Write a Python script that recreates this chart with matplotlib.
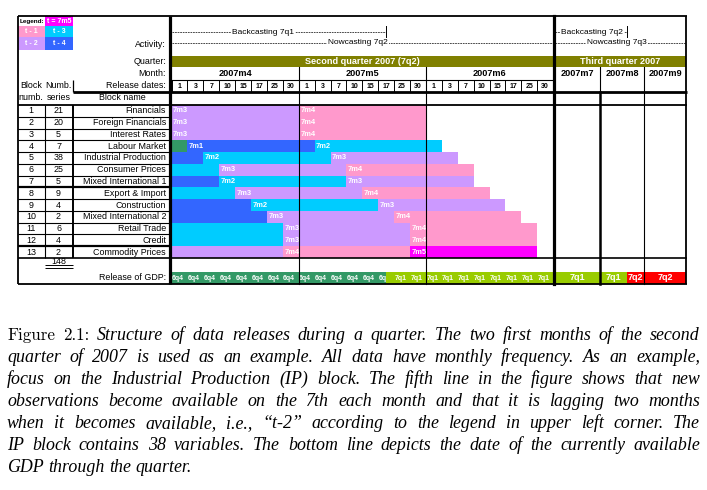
import matplotlib
matplotlib.use("Agg")
import matplotlib.pyplot as plt
from matplotlib.font_manager import FontProperties

# ------------------------------------------------------------------ data
block_names = ["Financials", "Foreign Financials", "Interest Rates", "Labour Market",
               "Industrial Production", "Consumer Prices", "Mixed International 1",
               "Export & Import", "Construction", "Mixed International 2",
               "Retail Trade", "Credit", "Commodity Prices"]
block_series = [21, 20, 5, 7, 38, 25, 5, 9, 4, 2, 6, 4, 2]
total_series = 148
release_dates = [1, 3, 7, 10, 15, 17, 25, 30]
months_q2 = ["2007m4", "2007m5", "2007m6"]
months_q3 = ["2007m7", "2007m8", "2007m9"]
quarters = ["Second quarter 2007 (7q2)", "Third quarter 2007"]
# index into release_dates at which each block is released every month
release_index = [0, 0, 0, 1, 2, 3, 3, 4, 5, 6, 7, 7, 7]
prior_month = ["7m3", "7m3", "7m3", "6m12", "7m1", "7m2", "7m1", "7m2", "7m1", "7m1", "7m2", "7m2", "7m3"]
first_month = ["7m3", "7m3", "7m3", "7m1", "7m2", "7m3", "7m2", "7m3", "7m2", "7m3", "7m3", "7m3", "7m4"]
second_month = ["7m4", "7m4", "7m4", "7m2", "7m3", "7m4", "7m3", "7m4", "7m3", "7m4", "7m4", "7m4", "7m5"]
legend_labels = ["t = 7m5", "t - 1", "t - 3", "t - 2", "t - 4"]
legend_periods = ["7m5", "7m4", "7m2", "7m3", "7m1"]
gdp_q2_slots = ["6q4"] * 14 + ["7q1"] * 10
gdp_q2_release = 13.5          # slot where 7q1 GDP becomes available
gdp_q3 = [["7q1"], ["7q1", "7q2"], ["7q2"]]
gdp_q3_split = 0.61            # fraction of 2007m8 when 7q2 GDP appears
activity_q2 = ["Backcasting 7q1", "Nowcasting 7q2"]
activity_q3 = ["Backcasting 7q2", "Nowcasting 7q3"]

period_colors = {"6m12": "#339966", "7m1": "#3366FF", "7m2": "#00CCFF",
                 "7m3": "#CC99FF", "7m4": "#FF99CC", "7m5": "#FF00FF",
                 "6q4": "#339966", "7q1": "#99CC00", "7q2": "#FF0000"}
OLIVE = "#808000"

caption_lines = [
    "Figure 2.1: Structure of data releases during a quarter. The two first months of the second",
    "quarter of 2007 is used as an example. All data have monthly frequency. As an example,",
    "focus on the Industrial Production (IP) block. The fifth line in the figure shows that new",
    "observations become available on the 7th each month and that it is lagging two months",
    "when it becomes available, i.e., \u201ct-2\u201d according to the legend in upper left corner. The",
    "IP block contains 38 variables. The bottom line depicts the date of the currently available",
    "GDP through the quarter.",
]

# ------------------------------------------------------------------ layout
SANS = ["Liberation Sans", "DejaVu Sans"]
plt.rcParams["font.family"] = SANS

W, H = 707, 490
fig = plt.figure(figsize=(W / 100, H / 100), dpi=100)
ax = fig.add_axes([0, 0, 1, 1])

SX0, SW = 171.5, 15.9      # slot 0 pixel x, pixel width of one release slot
RY0, RH = 105.0, 11.77     # first block row pixel y, row height


def X(px):
    return (px - SX0) / SW


def Y(py):
    return (py - RY0) / RH


ax.set_xlim(X(0), X(W))
ax.set_ylim(Y(H), Y(0))
ax.axis("off")

nslot = len(release_dates)
Q2_END = nslot * len(months_q2)
q3_edges = [X(555), X(600), X(644), X(686)]

FS_NAME = 6.4
FS_NUM = 6.4


def hline(py, px0, px1, lw=0.8, z=6):
    ax.plot([X(px0), X(px1)], [Y(py), Y(py)], color="k", lw=lw, solid_capstyle="butt", zorder=z)


def vline(px, py0, py1, lw=0.8, z=6):
    ax.plot([X(px), X(px)], [Y(py0), Y(py1)], color="k", lw=lw, solid_capstyle="butt", zorder=z)


def txt(px, py, s, size=7, ha="center", **kw):
    ax.text(X(px), Y(py), s, fontsize=size, ha=ha, va="center", **kw)


# ------------------------------------------------------------------ block bars
for i in range(len(block_names)):
    r = release_index[i]
    segs = []
    if r > 0:
        segs.append((0, r, prior_month[i], False))
    segs.append((r, r + nslot, first_month[i], True))
    segs.append((r + nslot, r + 2 * nslot, second_month[i], True))
    for a, b, m, lab in segs:
        ax.barh(i + 0.5, b - a, left=a, height=1.0, color=period_colors[m], linewidth=0, zorder=2)
        if lab:
            ax.text(a + 1.5 / SW, i + 0.5, m, color="white", fontsize=5.4, fontweight="bold",
                    ha="left", va="center", zorder=3)
    # left table
    txt(31, RY0 + (i + 0.5) * RH, str(i + 1), size=FS_NUM)
    txt(58.5, RY0 + (i + 0.5) * RH, str(block_series[i]), size=FS_NUM)
    txt(166, RY0 + (i + 0.5) * RH, block_names[i], size=FS_NAME, ha="right")

# ------------------------------------------------------------------ GDP row
gy0, gy1 = Y(272), Y(284)
gyc, gh = (gy0 + gy1) / 2, gy1 - gy0
start = 0
segments = []
cur = gdp_q2_slots[0]
for s in range(1, len(gdp_q2_slots)):
    if gdp_q2_slots[s] != cur:
        segments.append((start, gdp_q2_release, cur))
        start, cur = gdp_q2_release, gdp_q2_slots[s]
segments.append((start, len(gdp_q2_slots), cur))
for k, (a, b, p) in enumerate(segments):
    ax.barh(gyc, b - a, left=a, height=gh, color=period_colors[p], linewidth=0, zorder=2 + k)
for s, p in enumerate(gdp_q2_slots):
    z = 1.5 + len(segments) if s + 1 <= gdp_q2_release or p != gdp_q2_slots[0] else 2.5
    ax.text(s + 0.4, gyc, p, color="white", fontsize=5.0, fontweight="bold", ha="center", va="center",
            zorder=z)
for m, parts in enumerate(gdp_q3):
    a, b = q3_edges[m], q3_edges[m + 1]
    if len(parts) == 1:
        cuts = [a, b]
    else:
        cuts = [a, a + (b - a) * gdp_q3_split, b]
    for k, p in enumerate(parts):
        ax.barh(gyc, cuts[k + 1] - cuts[k], left=cuts[k], height=gh, color=period_colors[p],
                linewidth=0, zorder=2)
        ax.text((cuts[k] + cuts[k + 1]) / 2, gyc, p, color="white", fontsize=6.5, fontweight="bold",
                ha="center", va="center", zorder=4)
txt(166, 278, "Release of GDP:", size=FS_NAME, ha="right")
txt(58.5, 262, str(total_series), size=FS_NUM)
hline(265.5, 45, 73, lw=0.7)
hline(268, 45, 73, lw=0.7)

# ------------------------------------------------------------------ header
# legend
leg_cells = [(18, 45, 16.5, 26), (45, 73, 16.5, 26), (18, 45, 26, 37.5), (45, 73, 26, 37.5),
             (18, 45, 37.5, 50), (45, 73, 37.5, 50)]
txt(31.5, 21.5, "Legend:", size=4.6, fontweight="bold")
for (x0, x1, y0, y1), lab, per in zip(leg_cells[1:], legend_labels, legend_periods):
    ax.barh((Y(y0) + Y(y1)) / 2, X(x1) - X(x0), left=X(x0), height=Y(y1) - Y(y0),
            color=period_colors[per], linewidth=0, zorder=2)
    txt((x0 + x1) / 2, (y0 + y1) / 2, lab, size=5.0, color="white", fontweight="bold", zorder=3)

txt(166, 44.5, "Activity:", size=FS_NAME, ha="right")
txt(166, 62, "Quarter:", size=FS_NAME, ha="right")
txt(166, 74, "Month:", size=FS_NAME, ha="right")
txt(166, 86, "Release dates:", size=FS_NAME, ha="right")
txt(31, 86, "Block", size=FS_NUM)
txt(31, 98, "numb.", size=FS_NUM)
txt(58.5, 86, "Numb.", size=FS_NUM)
txt(58.5, 98, "series", size=FS_NUM)
txt(122, 98, "Block name", size=FS_NAME)

# activity lines
dash = dict(color="k", lw=0.5, ls=(0, (2.5, 1.2)), zorder=3)
bk_y, nw_y = Y(32), Y(43)
ax.plot([0, gdp_q2_release], [bk_y, bk_y], **dash)
ax.plot([gdp_q2_release] * 2, [Y(26.5), Y(37)], color="k", lw=0.7, zorder=3)
ax.text(X(263), bk_y, activity_q2[0], fontsize=6.0, ha="center", va="center", zorder=4,
        bbox=dict(facecolor="white", edgecolor="none", pad=0.6))
ax.plot([0, Q2_END], [nw_y, nw_y], **dash)
ax.text(X(358), nw_y, activity_q2[1], fontsize=6.0, ha="center", va="center", zorder=4,
        bbox=dict(facecolor="white", edgecolor="none", pad=0.6))
q3_bk_end = q3_edges[1] + (q3_edges[2] - q3_edges[1]) * gdp_q3_split
ax.plot([q3_edges[0], q3_bk_end], [bk_y, bk_y], **dash)
ax.plot([q3_bk_end] * 2, [Y(26.5), Y(37)], color="k", lw=0.7, zorder=3)
ax.text(X(592), bk_y, activity_q3[0], fontsize=6.0, ha="center", va="center", zorder=4,
        bbox=dict(facecolor="white", edgecolor="none", pad=0.6))
ax.plot([q3_edges[0], q3_edges[-1]], [nw_y, nw_y], **dash)
ax.text(X(617), nw_y, activity_q3[1], fontsize=6.0, ha="center", va="center", zorder=4,
        bbox=dict(facecolor="white", edgecolor="none", pad=0.6))

# quarter row
qy0, qy1 = Y(56), Y(67.5)
for (a, b), q in zip([(0, Q2_END), (q3_edges[0], q3_edges[-1])], quarters):
    ax.barh((qy0 + qy1) / 2, b - a, left=a, height=qy1 - qy0, color=OLIVE, linewidth=0, zorder=2)
    ax.text((a + b) / 2, (qy0 + qy1) / 2, q, color="white", fontsize=6.6, fontweight="bold",
            ha="center", va="center", zorder=3)

# month row
for m, name in enumerate(months_q2):
    ax.text(m * nslot + nslot / 2, Y(74), name, fontsize=6.6, fontweight="bold", ha="center", va="center")
for m, name in enumerate(months_q3):
    ax.text((q3_edges[m] + q3_edges[m + 1]) / 2, Y(74), name, fontsize=6.6, fontweight="bold",
            ha="center", va="center")

# release date row
for m in range(len(months_q2)):
    for k, d in enumerate(release_dates):
        ax.text(m * nslot + k + 0.5, Y(86), str(d), fontsize=5.0, fontweight="bold",
                ha="center", va="center")
for s in range(Q2_END + 1):
    ax.plot([s, s], [Y(80), Y(92)], color="k", lw=0.7, zorder=6)

# ------------------------------------------------------------------ grid lines
hline(16, 18, 686.5, lw=1.3)
vline(18, 16, 284.5, lw=1.3)
vline(686, 16, 284.5, lw=1.3)
hline(284, 18, 686.5, lw=1.3)
vline(170, 16, 284.5, lw=2.3)
ax.plot([Q2_END + 0.06] * 2, [Y(16), Y(284.5)], color="k", lw=2.3, zorder=6)
hline(80, 171, 553, lw=0.8)
vline(73, 80, 92, lw=0.9)
hline(92, 72.5, 686.5, lw=2.0)
hline(105, 18, 686.5, lw=1.3)
hline(258, 18, 686.5, lw=1.2)
for k in range(1, len(block_names)):
    lw = 1.6 if k in (7, 12) else 0.8
    ax.plot([X(18), X(170)], [k, k], color="k", lw=lw, zorder=6, solid_capstyle="butt")
vline(44.5, 105, 258, lw=0.8)
vline(73, 105, 258, lw=1.4)
# month boundaries
for m in range(1, len(months_q2)):
    ax.plot([m * nslot] * 2, [Y(67.5), Y(284)], color="k", lw=0.8, zorder=6)
ax.plot([q3_edges[1]] * 2, [Y(67.5), Y(92)], color="k", lw=0.8, zorder=6)
ax.plot([q3_edges[1]] * 2, [Y(92), Y(284)], color="k", lw=1.8, zorder=6)
ax.plot([q3_edges[2]] * 2, [Y(67.5), Y(284)], color="k", lw=0.8, zorder=6)

# ------------------------------------------------------------------ caption
fig.canvas.draw()
renderer = fig.canvas.get_renderer()
fp_it = FontProperties(family=["Liberation Serif", "DejaVu Serif"], style="italic", size=12.9)
fp_up = FontProperties(family=["cmr10", "Liberation Serif"], size=12.2)
LX0, LX1 = 7, 700
for li, line in enumerate(caption_lines):
    words = line.split(" ")
    base = 340 + 22 * li
    objs = []
    for wi, w in enumerate(words):
        fp = fp_up if (li == 0 and wi < 2) else fp_it
        objs.append(fig.text(0, 1 - base / H, w, fontproperties=fp, ha="left", va="baseline"))
    widths = [t.get_window_extent(renderer).width for t in objs]
    if li < len(caption_lines) - 1:
        gap = (LX1 - LX0 - sum(widths)) / (len(words) - 1)
    else:
        gap = 4.4
    xpos = LX0
    for t, wdt in zip(objs, widths):
        t.set_x(xpos / W)
        xpos += wdt + gap

fig.savefig("out.png", dpi=100)
